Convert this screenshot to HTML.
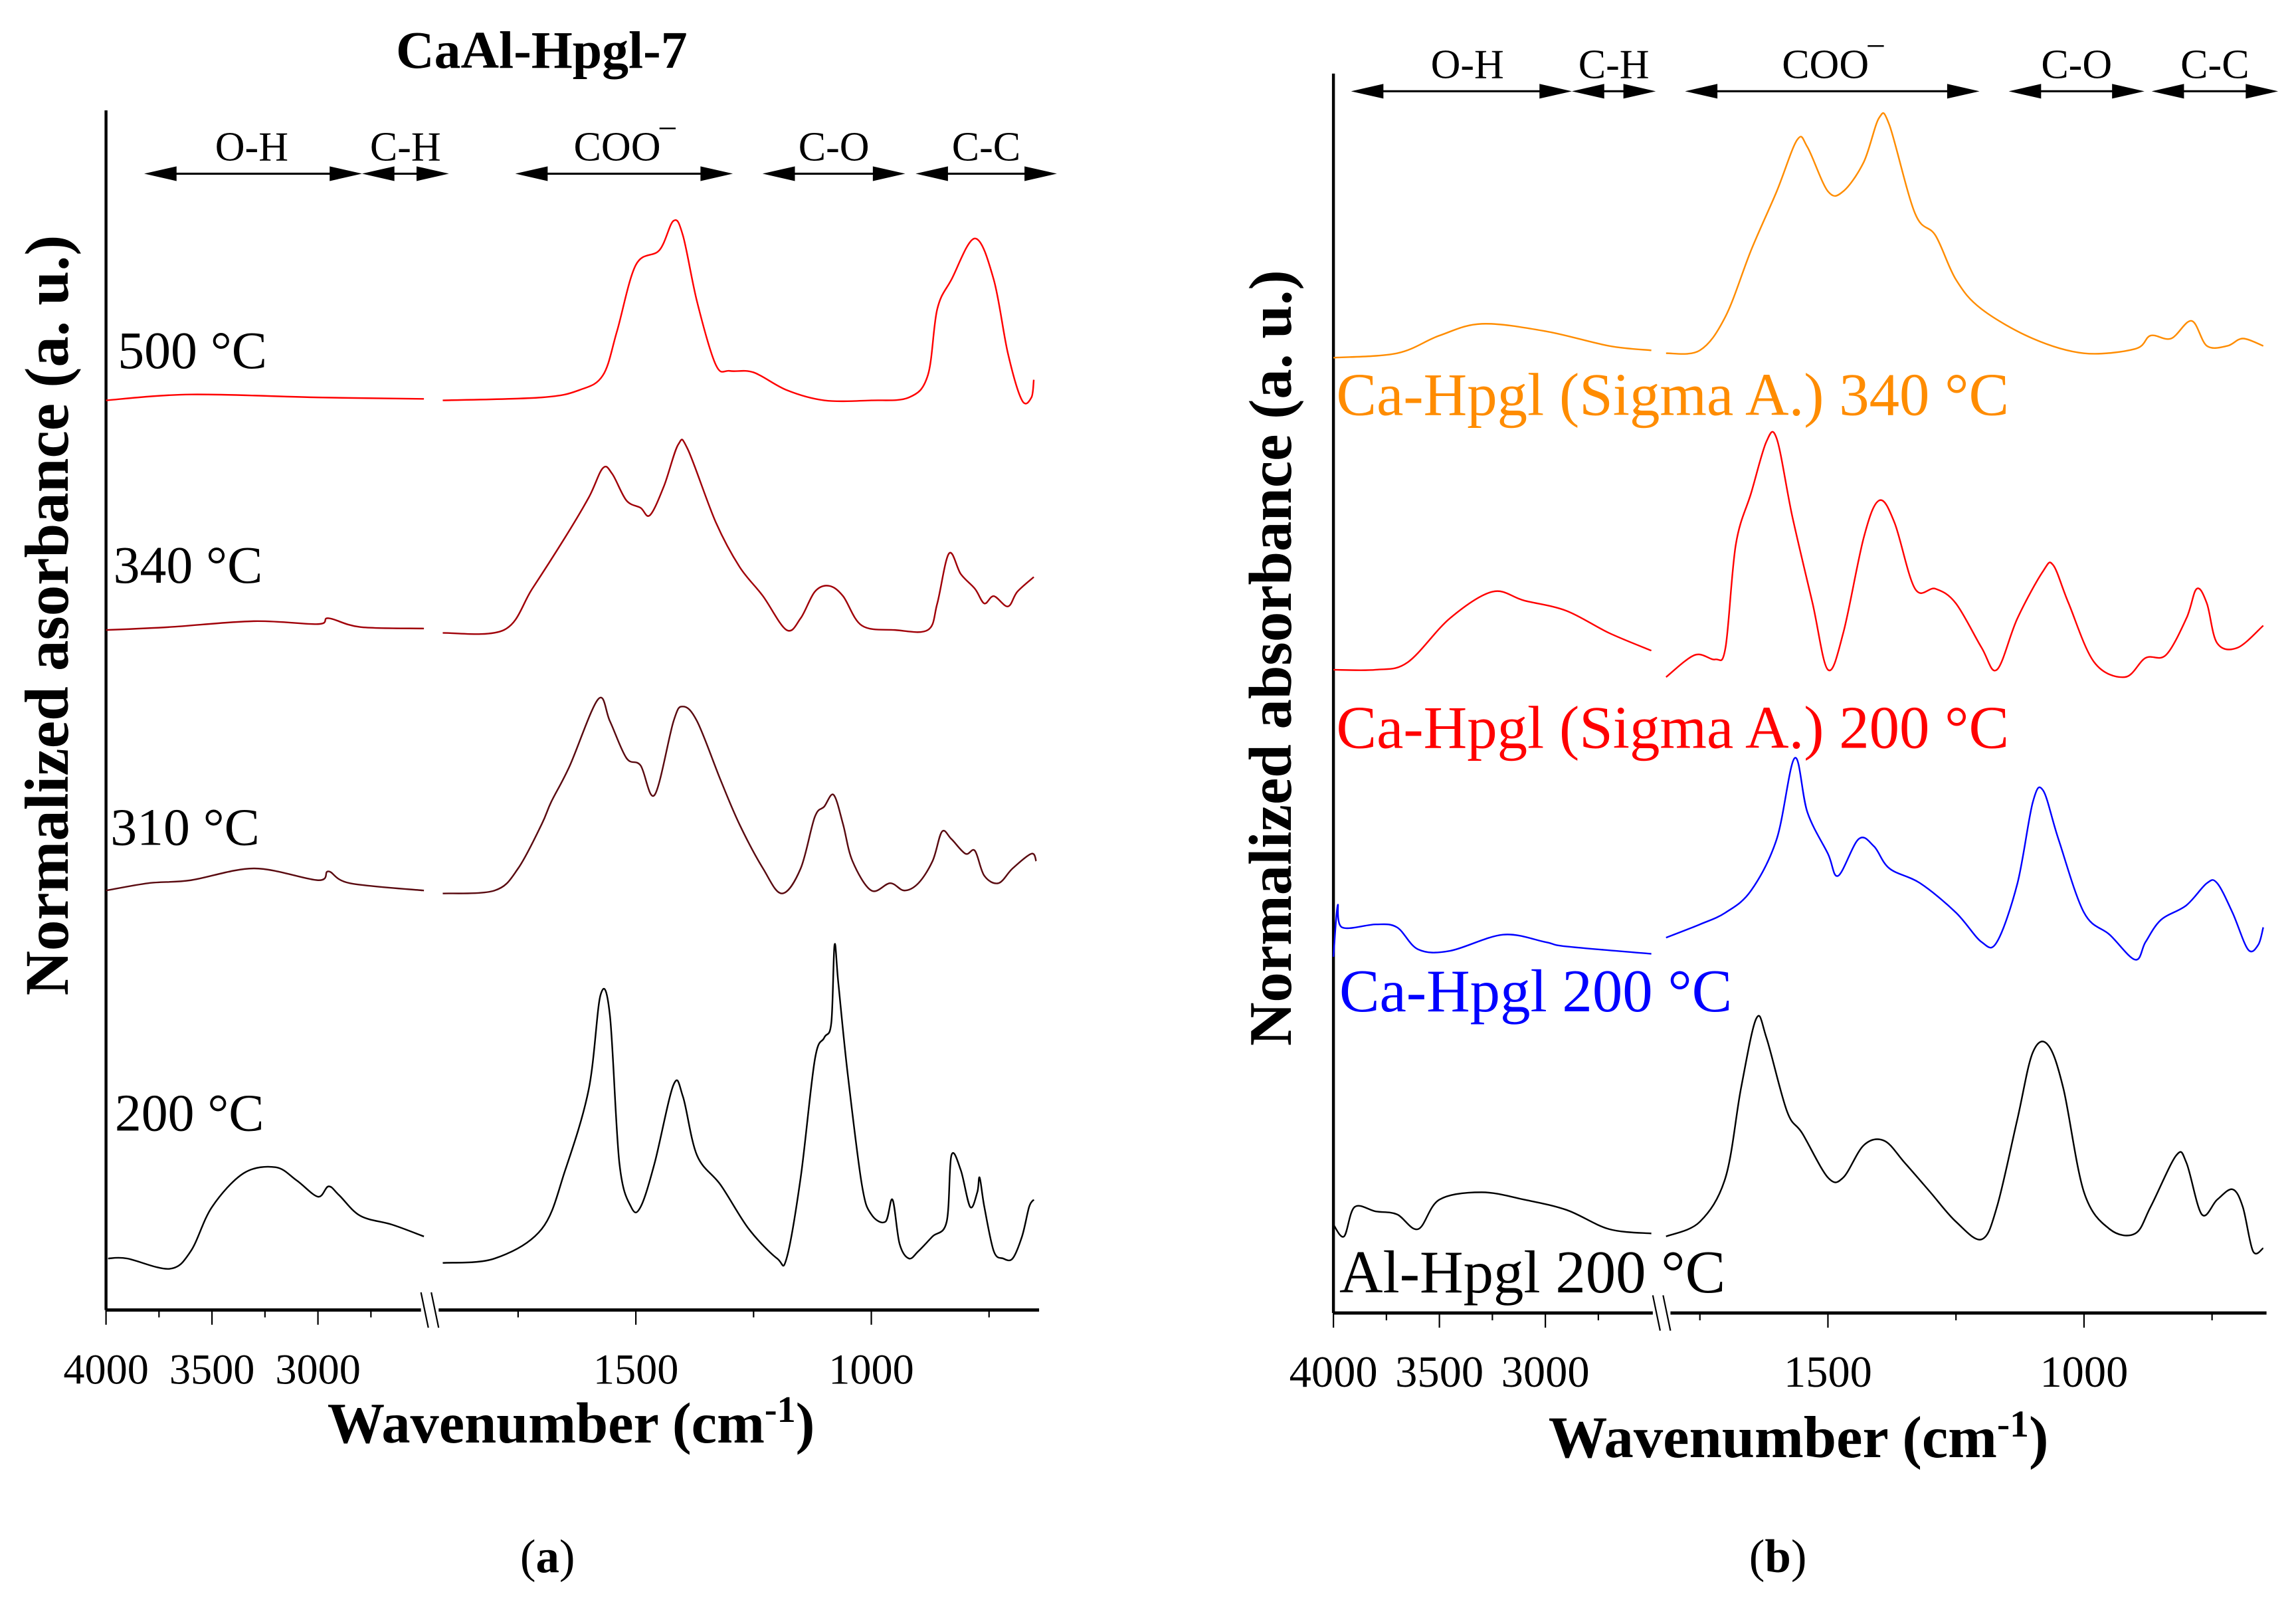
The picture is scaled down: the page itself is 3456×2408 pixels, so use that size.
<!DOCTYPE html>
<html><head><meta charset="utf-8"><style>
html,body{margin:0;padding:0;background:#fff;}
svg{display:block;}
text{font-family:"Liberation Serif",serif;}
</style></head><body>
<svg id="fig" width="3456" height="2408" viewBox="0 0 1560 1087" xmlns="http://www.w3.org/2000/svg">
<g id="pa"></g>
<g id="pb"></g>
</svg>
<script>
// ---- Panel (a) data: wavenumbers (cm-1) and normalized absorbance (a.u.) ----
const a200L_w=[3990,3900,3700,3600,3500,3350,3200,3100,3000,2950,2900,2800,2650,2500];
const a200L_v=[0.35,0.35,0.28,0.40,0.70,0.93,0.97,0.88,0.77,0.84,0.78,0.64,0.58,0.50];
const a200R_w=[1910,1800,1700,1650,1600,1575,1555,1535,1510,1490,1460,1420,1400,1370,1320,1260,1200,1180,1150,1120,1100,1085,1078,1070,1050,1020,1000,970,955,940,920,900,870,840,830,810,790,775,770,760,740,720,700,680,665,655];
const a200R_v=[0.32,0.35,0.55,0.95,1.50,2.14,2.00,1.00,0.70,0.70,1.00,1.53,1.45,1.05,0.85,0.55,0.35,0.35,0.90,1.70,1.85,1.95,2.48,2.22,1.60,0.85,0.65,0.60,0.75,0.45,0.35,0.40,0.50,0.60,1.05,0.95,0.70,0.80,0.90,0.70,0.40,0.35,0.35,0.50,0.70,0.75];
const a310L_w=[4000,3800,3600,3300,3000,2950,2850,2500];
const a310L_v=[2.85,2.90,2.92,3.00,2.92,2.98,2.90,2.85];
const a310R_w=[1910,1800,1750,1700,1680,1640,1580,1555,1520,1490,1460,1420,1400,1370,1320,1280,1230,1190,1150,1120,1100,1080,1060,1040,1000,960,930,900,870,850,830,800,780,760,730,700,660,650];
const a310R_v=[2.83,2.85,3.00,3.30,3.45,3.70,4.15,4.00,3.75,3.70,3.50,4.00,4.10,4.00,3.60,3.30,3.00,2.83,3.00,3.35,3.42,3.50,3.30,3.05,2.85,2.90,2.85,2.90,3.05,3.25,3.20,3.10,3.12,2.95,2.90,3.00,3.10,3.05];
const a340L_w=[4000,3700,3300,3000,2950,2800,2500];
const a340L_v=[4.62,4.64,4.68,4.66,4.70,4.64,4.63];
const a340R_w=[1910,1780,1720,1650,1600,1570,1550,1520,1490,1470,1440,1410,1390,1330,1280,1230,1180,1150,1120,1090,1060,1020,950,880,860,835,810,780,760,740,710,690,655];
const a340R_v=[4.60,4.62,4.90,5.25,5.52,5.72,5.68,5.50,5.45,5.40,5.60,5.88,5.85,5.35,5.05,4.85,4.62,4.70,4.88,4.92,4.85,4.65,4.62,4.62,4.80,5.14,5.00,4.90,4.80,4.85,4.78,4.88,4.98];
const a500L_w=[4000,3600,3000,2500];
const a500L_v=[6.18,6.22,6.20,6.19];
const a500R_w=[1910,1700,1620,1570,1540,1500,1450,1420,1400,1370,1330,1300,1250,1180,1100,1000,920,880,860,830,780,740,710,680,660,655];
const a500R_v=[6.18,6.20,6.25,6.35,6.65,7.10,7.20,7.40,7.30,6.85,6.42,6.38,6.37,6.25,6.18,6.18,6.20,6.35,6.80,7.00,7.28,7.00,6.50,6.18,6.20,6.32];
// ---- Panel (b) data ----
const bOrL_w=[4000,3700,3500,3300,3000,2700,2500];
const bOrL_v=[6.49,6.52,6.64,6.72,6.67,6.57,6.54];
const bOrR_w=[1816,1750,1700,1650,1600,1560,1540,1500,1470,1430,1400,1380,1330,1290,1250,1200,1100,1000,900,870,830,790,760,720,690,650];
const bOrR_v=[6.52,6.54,6.77,7.22,7.62,7.97,7.92,7.62,7.62,7.82,8.12,8.07,7.47,7.32,7.02,6.82,6.62,6.52,6.55,6.64,6.62,6.74,6.57,6.57,6.62,6.57];
const bRdL_w=[4000,3800,3650,3450,3250,3100,2900,2700,2500];
const bRdL_v=[4.37,4.37,4.42,4.72,4.90,4.84,4.77,4.62,4.50];
const bRdR_w=[1816,1760,1720,1700,1680,1650,1620,1600,1570,1530,1500,1470,1430,1400,1370,1330,1290,1250,1200,1170,1130,1080,1060,1030,980,920,880,840,800,780,760,740,700,650];
const bRdR_v=[4.32,4.47,4.44,4.52,5.22,5.57,5.92,5.94,5.42,4.82,4.37,4.62,5.27,5.52,5.37,4.92,4.92,4.82,4.52,4.37,4.72,5.04,5.08,4.82,4.42,4.32,4.45,4.47,4.72,4.92,4.82,4.55,4.52,4.67];
const bBlL_w=[4000,3980,3960,3800,3700,3600,3450,3200,3000,2900,2500];
const bBlL_v=[2.42,2.77,2.62,2.64,2.62,2.47,2.46,2.57,2.52,2.49,2.44];
const bBlR_w=[1816,1750,1700,1650,1600,1565,1540,1500,1480,1440,1410,1380,1320,1250,1200,1170,1130,1100,1080,1050,1000,950,900,880,850,800,760,740,710,680,660,650];
const bBlR_v=[2.55,2.64,2.72,2.87,3.22,3.77,3.40,3.12,2.97,3.22,3.17,3.02,2.92,2.72,2.52,2.52,2.92,3.47,3.55,3.22,2.72,2.57,2.40,2.52,2.67,2.77,2.92,2.92,2.72,2.47,2.50,2.62];
const bBkL_w=[4000,3950,3900,3800,3700,3600,3500,3300,3100,2900,2700,2500];
const bBkL_v=[0.60,0.52,0.72,0.69,0.67,0.57,0.77,0.82,0.77,0.70,0.57,0.54];
const bBkR_w=[1816,1750,1700,1670,1640,1620,1580,1550,1500,1470,1430,1390,1350,1300,1250,1200,1170,1130,1100,1070,1040,1000,950,900,870,820,800,770,740,710,690,670,650];
const bBkR_v=[0.52,0.62,0.92,1.52,2.00,1.87,1.37,1.22,0.92,0.92,1.14,1.17,1.02,0.82,0.62,0.50,0.72,1.32,1.77,1.82,1.52,0.82,0.57,0.54,0.72,1.07,1.02,0.67,0.77,0.84,0.72,0.42,0.44];
const xTicksLeft=[4000,3500,3000];
const xTicksRight=[1500,1000];
const NS="http://www.w3.org/2000/svg";
function mk(parent,tag,attrs,txt){const e=document.createElementNS(NS,tag);for(const k in attrs)e.setAttribute(k,attrs[k]);if(txt!==undefined)e.textContent=txt;parent.appendChild(e);return e;}

function smoothPath(pts){
  let d='M'+pts[0][0].toFixed(1)+','+pts[0][1].toFixed(1);
  for(let i=0;i<pts.length-1;i++){
    const p0=pts[Math.max(0,i-1)],p1=pts[i],p2=pts[i+1],p3=pts[Math.min(pts.length-1,i+2)];
    const c1x=p1[0]+(p2[0]-p0[0])/6,c1y=p1[1]+(p2[1]-p0[1])/6;
    const c2x=p2[0]-(p3[0]-p1[0])/6,c2y=p2[1]-(p3[1]-p1[1])/6;
    d+='C'+c1x.toFixed(1)+','+c1y.toFixed(1)+' '+c2x.toFixed(1)+','+c2y.toFixed(1)+' '+p2[0].toFixed(1)+','+p2[1].toFixed(1);
  }
  return d;
}

function panel(g,P){
  const xL=w=>P.x0+(4000-w)*0.144;
  const xR=w=>P.r1500+(1500-w)*P.rs;
  const y=v=>P.yb-v*100;
  const ya=mk(g,'line',{x1:P.x0,y1:P.ytop,x2:P.x0,y2:P.yb,stroke:'#000','stroke-width':2});
  
  
  const xa=mk(g,'line',{x1:P.x0,y1:P.yb,x2:P.xend,y2:P.yb,stroke:'#000','stroke-width':2.2});
  
  
  [4000,3750,3500,3250,3000,2750].forEach(t=>{const maj=xTicksLeft.includes(t);mk(g,'line',{x1:xL(t),y1:P.yb,x2:xL(t),y2:P.yb+(maj?10:5),stroke:'#000','stroke-width':1});});
  [1750,1500,1250,1000,750].forEach(t=>{const maj=xTicksRight.includes(t);mk(g,'line',{x1:xR(t),y1:P.yb,x2:xR(t),y2:P.yb+(maj?10:5),stroke:'#000','stroke-width':1});});
  xTicksLeft.forEach(t=>{const e=mk(g,'text',{x:xL(t),y:P.yb+50,'font-size':P.tfs,'text-anchor':'middle'},String(t));});
  xTicksRight.forEach(t=>{const e=mk(g,'text',{x:xR(t),y:P.yb+50,'font-size':P.tfs,'text-anchor':'middle'},String(t));});
  const bx=P.brk;
  mk(g,'rect',{x:bx-4,y:P.yb-10,width:12,height:20,fill:'#fff'});
  mk(g,'line',{x1:bx-4,y1:P.yb-12,x2:bx+1,y2:P.yb+12,stroke:'#000','stroke-width':1});
  mk(g,'line',{x1:bx+3,y1:P.yb-12,x2:bx+8,y2:P.yb+12,stroke:'#000','stroke-width':1});
  P.series.forEach(s=>{
    [[s.lw,s.lv,xL],[s.rw,s.rv,xR]].forEach(([W,V,fx],i)=>{
      const pts=W.map((w,k)=>[fx(w),y(V[k])]);
      const p=mk(g,'path',{d:smoothPath(pts),fill:'none',stroke:s.c,'stroke-width':1.1,'stroke-linejoin':'round'});
      
      
    });
    const t=mk(g,'text',{x:s.tx,y:s.ty,'font-size':P.lfs,fill:s.tc},s.label);
    
    
  });
  P.bands.forEach(b=>{
    const x1=b.a<2000?xR(b.a):xL(b.a), x2=b.b<2000?xR(b.b):xL(b.b);
    const yy=P.ay;
    const l=mk(g,'line',{x1:x1+10,y1:yy,x2:x2-10,y2:yy,stroke:'#000','stroke-width':1.4});
    
    
    mk(g,'polygon',{points:`${x1},${yy} ${x1+22},${yy-5} ${x1+22},${yy+5}`,fill:'#000'});
    mk(g,'polygon',{points:`${x2},${yy} ${x2-22},${yy-5} ${x2-22},${yy+5}`,fill:'#000'});
    const t=mk(g,'text',{x:b.tx!==undefined?b.tx:(x1+x2)/2,y:yy-9,'font-size':28,'text-anchor':'middle'},b.label);
    
    
  });
}

panel(document.getElementById('pa'),{
  x0:72,ytop:75,yb:890,xend:706,r1500:432,rs:0.32,brk:290,ay:118,tfs:29,lfs:36,
  series:[
    {n:'series-200c',c:'#000',tc:'#000',label:'200 °C',tx:78,ty:768,lw:a200L_w,lv:a200L_v,rw:a200R_w,rv:a200R_v},
    {n:'series-310c',c:'#5a0a10',tc:'#000',label:'310 °C',tx:75,ty:574,lw:a310L_w,lv:a310L_v,rw:a310R_w,rv:a310R_v},
    {n:'series-340c',c:'#a00008',tc:'#000',label:'340 °C',tx:77,ty:396,lw:a340L_w,lv:a340L_v,rw:a340R_w,rv:a340R_v},
    {n:'series-500c',c:'#ff0000',tc:'#000',label:'500 °C',tx:80,ty:250,lw:a500L_w,lv:a500L_v,rw:a500R_w,rv:a500R_v}],
  bands:[{id:'oh',a:3820,b:2792,label:'O-H',tx:171},{id:'ch',a:2792,b:2382,label:'C-H'},{id:'coo',a:1756,b:1294,label:'COO‾'},{id:'co',a:1231,b:928,label:'C-O'},{id:'cc',a:906,b:606,label:'C-C'}]
});
panel(document.getElementById('pb'),{
  x0:906,ytop:50,yb:892,xend:1540,r1500:1242,rs:0.348,brk:1127,ay:62,tfs:30,lfs:41,
  series:[
    {n:'series-al-hpgl-200c',c:'#000',tc:'#000',label:'Al-Hpgl 200 °C',tx:910,ty:878,lw:bBkL_w,lv:bBkL_v,rw:bBkR_w,rv:bBkR_v},
    {n:'series-ca-hpgl-200c',c:'#0000ff',tc:'#0000ff',label:'Ca-Hpgl 200 °C',tx:910,ty:687,lw:bBlL_w,lv:bBlL_v,rw:bBlR_w,rv:bBlR_v},
    {n:'series-ca-hpgl-sigma-200c',c:'#ff0000',tc:'#ff0000',label:'Ca-Hpgl (Sigma A.) 200 °C',tx:908,ty:508,lw:bRdL_w,lv:bRdL_v,rw:bRdR_w,rv:bRdR_v},
    {n:'series-ca-hpgl-sigma-340c',c:'#ff8c00',tc:'#ff8c00',label:'Ca-Hpgl (Sigma A.) 340 °C',tx:908,ty:282,lw:bOrL_w,lv:bOrL_v,rw:bOrR_w,rv:bOrR_v}],
  bands:[{id:'oh',a:3917,b:2875,label:'O-H',tx:997},{id:'ch',a:2875,b:2479,label:'C-H'},{id:'coo',a:1779,b:1204,label:'COO‾'},{id:'co',a:1147,b:882,label:'C-O'},{id:'cc',a:868,b:621,label:'C-C'}]
});
const svg=document.getElementById('fig');
const T=[
 ['chart-title-a',368,46,36,'bold','middle','CaAl-Hpgl-7'],
 ['x-axis-title-a',388,980,39,'bold','middle','Wavenumber (cm'],
 ['x-axis-title-b',1222,990,40,'bold','middle','Wavenumber (cm'],
 ['caption-a',372,1068,32,'normal','middle','(a)'],
 ['caption-b',1208,1068,32,'normal','middle','(b)']];
T.forEach(a=>{
  const t=mk(svg,'text',{x:a[1],y:a[2],'font-size':a[3],'font-weight':a[4],'text-anchor':a[5]},a[6]);
  
  
  if(a[0].startsWith('x-axis')){
    mk(t,'tspan',{'baseline-shift':'super','font-size':a[3]*0.65},'-1');
    mk(t,'tspan',{},')');
  }
  if(a[0].startsWith('caption')){t.textContent='';mk(t,'tspan',{},'(');mk(t,'tspan',{'font-weight':'bold'},a[6][1]);mk(t,'tspan',{},')');}
});
const ya1=mk(svg,'text',{x:0,y:0,'font-size':42,'font-weight':'bold','text-anchor':'middle',transform:'translate(46,418) rotate(-90)'},'Normalized asorbance (a. u.)');


const ya2=mk(svg,'text',{x:0,y:0,'font-size':41,'font-weight':'bold','text-anchor':'middle',transform:'translate(877,447) rotate(-90)'},'Normalized absorbance (a. u.)');


</script>
</body></html>
